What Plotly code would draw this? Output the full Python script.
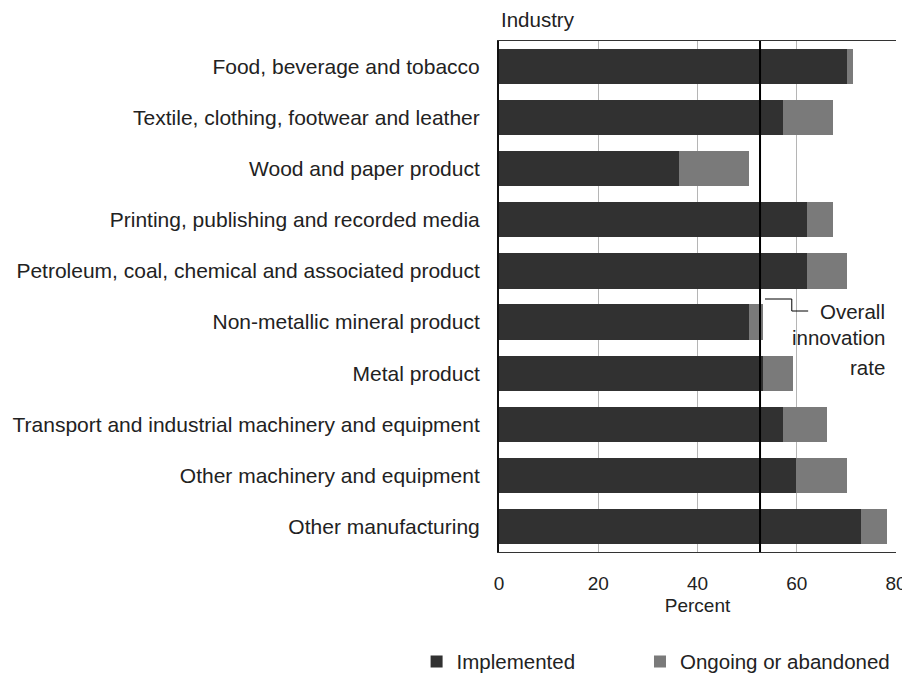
import plotly.graph_objects as go

industries = [
    "Food, beverage and tobacco",
    "Textile, clothing, footwear and leather",
    "Wood and paper product",
    "Printing, publishing and recorded media",
    "Petroleum, coal, chemical and associated product",
    "Non-metallic mineral product",
    "Metal product",
    "Transport and industrial machinery and equipment",
    "Other machinery and equipment",
    "Other manufacturing",
]
implemented = [70.1, 57.2, 36.2, 62.0, 62.0, 50.3, 53.2, 57.2, 59.9, 72.9]
ongoing_or_abandoned = [1.2, 10.1, 14.1, 5.3, 8.1, 2.9, 6.0, 8.9, 10.2, 5.3]
overall_rate = 52.6
x_ticks = [0, 20, 40, 60, 80]

FONT = "Liberation Sans, Arial, sans-serif"
FS = 20.5
FS_CAT = 21
FS_TICK = 19

fig = go.Figure()
fig.add_trace(go.Bar(
    y=industries, x=implemented, orientation="h", name="Implemented",
    marker=dict(color="#313131", line=dict(width=0)), legend="legend",
))
fig.add_trace(go.Bar(
    y=industries, x=ongoing_or_abandoned, orientation="h", name="Ongoing or abandoned",
    marker=dict(color="#7a7a7a", line=dict(width=0)), legend="legend2",
))

# overall innovation rate line
fig.add_shape(type="line", xref="x", yref="paper", x0=overall_rate, x1=overall_rate,
              y0=0, y1=1, line=dict(color="black", width=2), layer="above")
# bracket connector to the label
fig.add_shape(type="path", xref="x", yref="paper",
              path=f"M {overall_rate+1.0},0.4951 H {overall_rate+6.4} V 0.4716 H {overall_rate+9.7}",
              line=dict(color="black", width=1), layer="above")

for txt, yy in [("Overall", 0.4697), ("innovation", 0.4188), ("rate", 0.362)]:
    fig.add_annotation(text=txt, xref="paper", yref="paper", x=0.977, y=yy,
                       xanchor="right", yanchor="middle", showarrow=False,
                       font=dict(family=FONT, size=FS, color="#222"))

fig.add_annotation(text="Industry", xref="paper", yref="paper", x=0.0, y=1.043,
                   xanchor="left", yanchor="middle", showarrow=False,
                   font=dict(family=FONT, size=20.5, color="#222"))

legend_common = dict(orientation="h", xref="container", yref="container",
                     xanchor="left", yanchor="middle", y=0.0316,
                     font=dict(family=FONT, size=FS, color="#222"),
                     bgcolor="rgba(0,0,0,0)")

fig.update_layout(
    barmode="stack",
    bargap=0.31,
    width=910, height=675,
    margin=dict(l=491, r=22, t=33, b=131, autoexpand=False),
    paper_bgcolor="white", plot_bgcolor="white",
    font=dict(family=FONT, size=FS, color="#222"),
    showlegend=True,
    legend=dict(x=0.449, **legend_common),
    legend2=dict(x=0.6945, **legend_common),
    xaxis=dict(range=[0, 80], tickvals=x_ticks, showgrid=True, gridcolor="#b5b5b5",
               gridwidth=1, zeroline=False, showline=True, linecolor="#333", linewidth=1,
               mirror=True, ticks="", ticklabelstandoff=14, automargin=False,
               tickfont=dict(family=FONT, size=FS_TICK),
               title=dict(text="Percent", standoff=5, font=dict(family=FONT, size=FS_TICK))),
    yaxis=dict(categoryorder="array", categoryarray=industries, range=[9.5, -0.5],
               showgrid=False, zeroline=False, showline=True, linecolor="#111", linewidth=2,
               mirror=False, ticks="", ticklabelstandoff=13, automargin=False,
               tickfont=dict(family=FONT, size=FS_CAT)),
)

fig.write_html("out.html")
